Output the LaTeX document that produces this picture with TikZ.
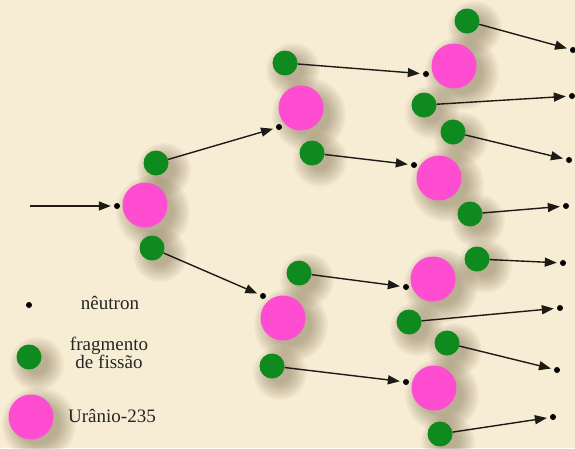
\documentclass[tikz,border=0pt]{standalone}
\usepackage{fontspec}
\setmainfont{Liberation Serif}
\usetikzlibrary{arrows.meta}
\definecolor{paper}{RGB}{247,236,212}
\definecolor{upink}{RGB}{255,77,210}
\definecolor{fgreen}{RGB}{14,138,30}
\definecolor{ink}{RGB}{30,26,22}
\definecolor{shade}{RGB}{90,75,40}
\begin{document}
\begin{tikzpicture}[x=1pt,y=-1pt,
  uranium/.style={circle,fill=upink,minimum size=45pt,inner sep=0pt},
  fragment/.style={circle,fill=fgreen,minimum size=25pt,inner sep=0pt},
  neutron/.style={circle,fill=black,minimum size=6pt,inner sep=0pt},
  ray/.style={draw=ink,line width=1.4pt,-{Triangle[length=12pt,width=9pt]},shorten >=3pt},
  legend/.style={font=\fontsize{19}{18}\selectfont,text=black!85,inner sep=0pt},
  haze/.style={fill=shade,opacity=0.035}]

% background
\fill[paper] (0,0) rectangle (575,448);
\useasboundingbox (0,0) rectangle (575,448);

% soft shadows under the particles (x, y, radius)
\foreach \x/\y/\r in {145/205/22, 301/108/22, 454/66/22, 439/178/22, 433/279/22,
    283/318/22, 434/388/22, 31/417/22,
    156/163/12, 152/248/12, 285/63/12, 312/153/12, 299/273/12, 272/366/12,
    467/21/12, 424/105/12, 453/132/12, 470/214/12, 477/259/12, 409/322/12,
    447/343/12, 440/434/12, 29/357/12} {
  \foreach \k in {0,...,11} {
    \fill[haze] (\x+8,\y+7) circle ({\r+15-1.5*\k});
  }
}

% uranium nuclei
\node[uranium] (u1) at (145,205) {};
\node[uranium] (u2) at (301,108) {};
\node[uranium] (u3) at (454,66) {};
\node[uranium] (u4) at (439,178) {};
\node[uranium] (u5) at (433,279) {};
\node[uranium] (u6) at (283,318) {};
\node[uranium] (u7) at (434,388) {};

% fission fragments
\node[fragment] (g1) at (156,163) {};
\node[fragment] (g2) at (152,248) {};
\node[fragment] (g3) at (285,63) {};
\node[fragment] (g4) at (312,153) {};
\node[fragment] (g5) at (299,273) {};
\node[fragment] (g6) at (272,366) {};
\node[fragment] (g7) at (467,21) {};
\node[fragment] (g8) at (424,105) {};
\node[fragment] (g9) at (453,132) {};
\node[fragment] (g10) at (470,214) {};
\node[fragment] (g11) at (477,259) {};
\node[fragment] (g12) at (409,322) {};
\node[fragment] (g13) at (447,343) {};
\node[fragment] (g14) at (440,434) {};

% neutrons
\node[neutron] (n0) at (117,206) {};
\node[neutron] (n1) at (279,127) {};
\node[neutron] (n2) at (263,296) {};
\node[neutron] (n3) at (426,74) {};
\node[neutron] (n4) at (414,165) {};
\node[neutron] (n5) at (406,287) {};
\node[neutron] (n6) at (406,382) {};
\node[neutron] (n7) at (573,50) {};
\node[neutron] (n8) at (572,96) {};
\node[neutron] (n9) at (569,160) {};
\node[neutron] (n10) at (566,206) {};
\node[neutron] (n11) at (563,263) {};
\node[neutron] (n12) at (560,308) {};
\node[neutron] (n13) at (557,370) {};
\node[neutron] (n14) at (553,417) {};

% incoming neutron and emitted neutrons
\coordinate (src) at (30,206);
\draw[ray] (src) -- (n0);
\foreach \i in {1,...,14} {
  \draw[ray] (g\i) -- (n\i);
}

% legend
\node[neutron] (ln) at (29,305) {};
\node[legend,anchor=base] (lnt) at (110,309) {nêutron};
\node[fragment] (lf) at (29,357) {};
\node[legend,anchor=base,align=center] (lft) at (109,368) {fragmento\\de fissão};
\node[uranium] (lu) at (31,417) {};
\node[legend,anchor=base west] (lut) at (68,422) {Urânio-235};
\end{tikzpicture}
\end{document}
